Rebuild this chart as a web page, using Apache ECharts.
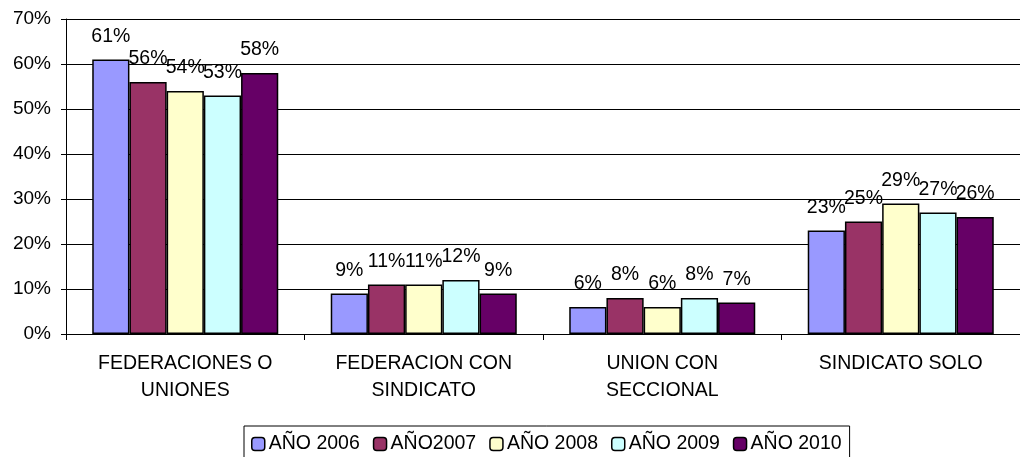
<!DOCTYPE html>
<html>
<head>
<meta charset="utf-8">
<script src="https://cdn.jsdelivr.net/npm/echarts@6/dist/echarts.min.js"></script>
<style>
html, body { margin: 0; padding: 0; background: #fff; }
#chart { width: 1020px; height: 457px; }
</style>
</head>
<body>
<div id="chart"></div>
<script>
// categorias y valores (%)
var categorias = ['FEDERACIONES O\nUNIONES', 'FEDERACION CON\nSINDICATO', 'UNION CON\nSECCIONAL', 'SINDICATO SOLO'];
var nombres = ['AÑO 2006', 'AÑO2007', 'AÑO 2008', 'AÑO 2009', 'AÑO 2010'];
var colores = ['#9999ff', '#993366', '#ffffcc', '#ccffff', '#660066'];
var anio2006 = [61, 9, 6, 23];
var anio2007 = [56, 11, 8, 25];
var anio2008 = [54, 11, 6, 29];
var anio2009 = [53, 12, 8, 27];
var anio2010 = [58, 9, 7, 26];
var valores = [anio2006, anio2007, anio2008, anio2009, anio2010];

var fuente = 'Liberation Sans, Arial, sans-serif';
var chart = echarts.init(document.getElementById('chart'));

var series = [];
for (var i = 0; i < nombres.length; i++) {
    series.push({
        name: nombres[i],
        type: 'bar',
        data: valores[i],
        barGap: '0%',
        barCategoryGap: '22%',
        itemStyle: { color: colores[i], borderColor: '#000', borderWidth: 1.5 },
        label: {
            show: true,
            position: 'top',
            distance: 13,
            formatter: '{c}%',
            color: '#000',
            fontFamily: fuente,
            fontSize: 19.5
        }
    });
}

var option = {
    animation: false,
    backgroundColor: '#fff',
    grid: { left: 66, top: 19, width: 964, height: 315 },
    legend: {
        top: 426,
        left: 244,
        itemWidth: 13,
        itemHeight: 13,
        itemGap: 13,
        padding: [8, 8, 12, 7],
        borderColor: '#000',
        borderWidth: 1,
        textStyle: { color: '#000', fontFamily: fuente, fontSize: 19.5, padding: [0, 0, 0, -1] },
        data: nombres.map(function (n) {
            return { name: n, itemStyle: { borderColor: '#000', borderWidth: 1.5 } };
        })
    },
    xAxis: {
        type: 'category',
        data: categorias,
        axisLine: { lineStyle: { color: '#000' } },
        axisTick: { show: true, length: 6, lineStyle: { color: '#000' } },
        axisLabel: { color: '#000', fontFamily: fuente, fontSize: 19.5, lineHeight: 27, margin: 16 }
    },
    yAxis: {
        type: 'value',
        min: 0,
        max: 70,
        interval: 10,
        axisLine: { show: true, lineStyle: { color: '#000' } },
        axisTick: { show: true, length: 5, lineStyle: { color: '#000' } },
        splitLine: { lineStyle: { color: '#000', width: 1 } },
        axisLabel: { color: '#000', fontFamily: fuente, fontSize: 19, margin: 15, formatter: '{value}%' }
    },
    series: series
};

chart.setOption(option);
</script>
</body>
</html>
